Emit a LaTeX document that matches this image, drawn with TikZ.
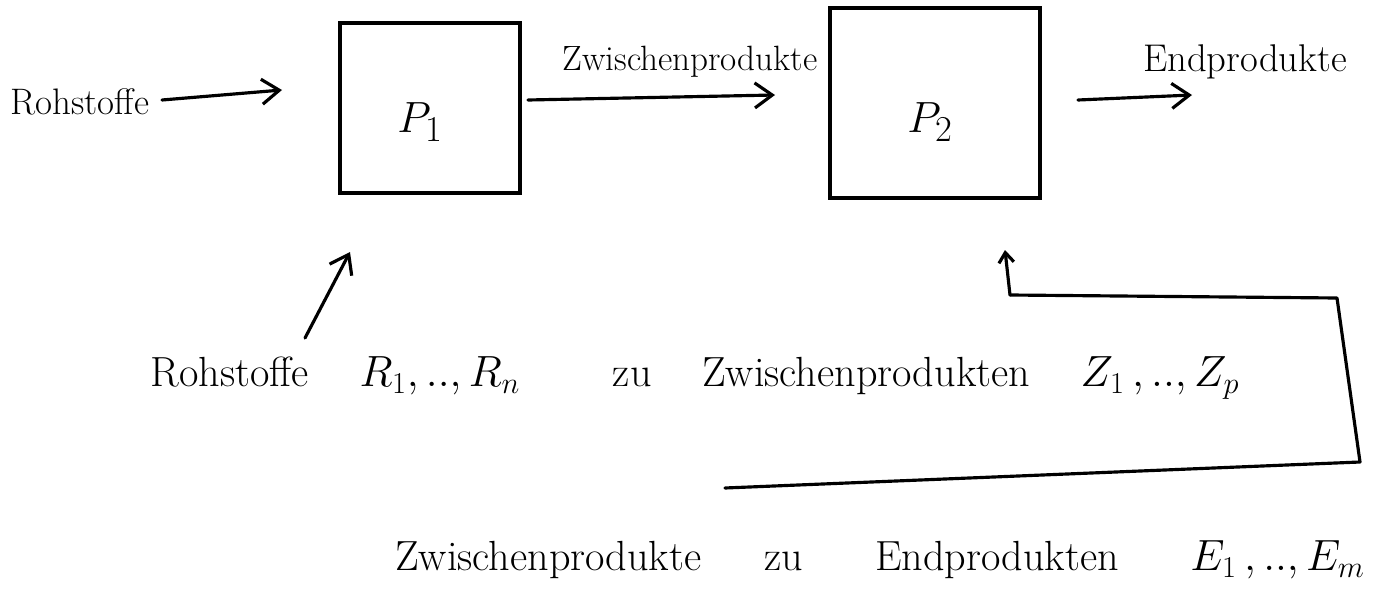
\documentclass[tikz,border=0pt]{standalone}
\usetikzlibrary{arrows.meta}
\begin{document}
\begin{tikzpicture}[x={(0.02cm,0)},y={(0,-0.02cm)},
  ln/.style={line width=1.8pt,line cap=round,line join=round},
  arr/.style={ln,-{Straight Barb[length=3.5mm,width=5mm,line width=1.8pt]}},
  txt/.style={font=\fontsize{22}{26}\selectfont,inner sep=0pt,anchor=center},
  big/.style={font=\fontsize{24}{28}\selectfont,inner sep=0pt,anchor=center},
  proc/.style={draw,line width=1.8pt,inner sep=0pt}]
\useasboundingbox (0,0) rectangle (1383,598);
\node[txt,font=\fontsize{21}{25}\selectfont] (roh) at (80,102) {Rohstoffe};
\node[proc,minimum width=3.6cm,minimum height=3.4cm] (p1) at (430,108) {};
\node[proc,minimum width=4.2cm,minimum height=3.8cm] (p2) at (935,103) {};
\node[font=\fontsize{28}{32}\selectfont,inner sep=0pt] (p1l) at (420,122) {$P_1$};
\node[font=\fontsize{28}{32}\selectfont,inner sep=0pt] (p2l) at (930,122) {$P_2$};
\node[txt,font=\fontsize{20}{24}\selectfont] (zw) at (690,62) {Zwischenprodukte};
\node[txt] (end) at (1245,62) {Endprodukte};
\coordinate (a1s) at (162,100);
\coordinate (a1e) at (282,90);
\draw[arr] (a1s) -- (a1e);
\coordinate (a2s) at (528,100);
\coordinate (a2e) at (775,95);
\draw[arr] (a2s) -- (a2e);
\coordinate (a3s) at (1078,100);
\coordinate (a3e) at (1192,95);
\draw[arr] (a3s) -- (a3e);
\node[big] (l1) at (695,378) {Rohstoffe\hspace{1.2em}$R_1,..,R_n$\hspace{2.2em}zu\hspace{1.2em}Zwischenprodukten\hspace{1.2em}$Z_1\,,..,Z_p$};
\node[big] (l2) at (880,560) {Zwischenprodukte\hspace{1.5em}zu\hspace{1.7em}Endprodukten\hspace{1.7em}$E_1\,,..,E_m$};
\coordinate (b1) at (305,338);
\draw[arr] (b1) -- (350,252);
\coordinate (f0) at (725,488);
\coordinate (f1) at (1360,462);
\coordinate (f2) at (1337,298);
\coordinate (f3) at (1010,295);
\coordinate (f4) at (1005,250);
\draw[ln] (f0) -- (f1) -- (f2) -- (f3);
\draw[ln,-{Straight Barb[length=2mm,width=3mm,line width=1.8pt]}] (f3) -- (f4);
\end{tikzpicture}
\end{document}
